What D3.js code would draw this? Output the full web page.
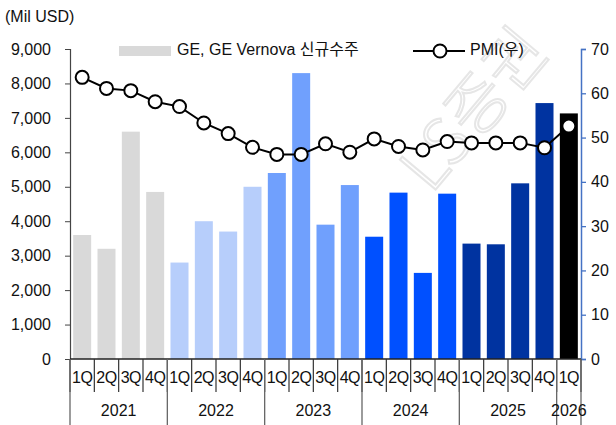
<!DOCTYPE html>
<html><head><meta charset="utf-8">
<script src="https://cdn.jsdelivr.net/npm/d3@7"></script>
<style>
body{margin:0;background:#fff;}
svg{display:block;font-family:"Liberation Sans",Arial,"Noto Sans CJK KR",sans-serif;}
</style></head>
<body><svg id="c" width="616" height="425"></svg>
<script>
// ---- data ----
const years = ["2021","2021","2021","2021","2022","2022","2022","2022","2023","2023","2023","2023","2024","2024","2024","2024","2025","2025","2025","2025","2026"];
const quarters = ["1Q","2Q","3Q","4Q","1Q","2Q","3Q","4Q","1Q","2Q","3Q","4Q","1Q","2Q","3Q","4Q","1Q","2Q","3Q","4Q","1Q"];
const orders = [3600,3200,6600,4850, 2800,4000,3700,5000, 5400,8300,3900,5050, 3550,4830,2500,4800, 3350,3330,5100,7430, 7130];
const pmi = [63.6,61.1,60.6,58.1, 57.0,53.3,50.9,47.8, 46.2,46.2,48.6,46.7, 49.7,48.0,47.2,49.1, 48.8,48.8,48.8,47.7, 52.6];
const yearList = ["2021","2022","2023","2024","2025","2026"];
const yearColors = ["#d9d9d9","#b7cefb","#70a0fd","#0050ff","#0033a0","#000000"];
const leftTicks = [0,1000,2000,3000,4000,5000,6000,7000,8000,9000];
const rightTicks = [0,10,20,30,40,50,60,70];
const legendLabels = ["GE, GE Vernova 신규수주","PMI(우)"];
const unitLabel = "(Mil USD)";
const watermark = "LS증권";

const svg = d3.select("#c");
const L = 70, R = 581, T = 49, B = 359;
const ids = d3.range(orders.length);

// watermark
svg.append("text").attr("transform","translate(478,112) rotate(-50)")
  .attr("text-anchor","middle").attr("dominant-baseline","middle")
  .style("font-family","'Noto Sans CJK KR',sans-serif").style("font-size","64px").style("font-weight","300")
  .attr("fill","none").attr("stroke","#e6e6e6").attr("stroke-width",2).text(watermark);

const x = d3.scaleBand().domain(ids).range([L,R]).paddingInner(0.26).paddingOuter(0.13);
const xb = d3.scaleBand().domain(ids).range([L,R]);
const yL = d3.scaleLinear().domain([0,9000]).range([B,T]);
const yR = d3.scaleLinear().domain([0,70]).range([B,T]);
const color = d3.scaleOrdinal().domain(yearList).range(yearColors);

// bars
svg.append("g").selectAll("rect").data(ids).join("rect")
  .attr("x", i=>x(i)).attr("width", x.bandwidth())
  .attr("y", i=>yL(orders[i])).attr("height", i=>B-yL(orders[i]))
  .attr("fill", i=>color(years[i]));

// left axis
const gl = svg.append("g").attr("transform",`translate(${L},0)`)
  .call(d3.axisLeft(yL).tickValues(leftTicks).tickFormat(d3.format(",")).tickSize(5).tickPadding(14));
gl.select(".domain").attr("stroke","#444").attr("stroke-width",1.2);
gl.selectAll(".tick line").attr("stroke","#444");
gl.selectAll("text").style("font-size","16px").attr("fill","#111");

// right axis
const gr = svg.append("g").attr("transform",`translate(${R},0)`)
  .call(d3.axisRight(yR).tickValues(rightTicks).tickSize(5).tickPadding(5));
gr.select(".domain").attr("stroke","#4472c4").attr("stroke-width",1.5);
gr.selectAll(".tick line").attr("stroke","#4472c4").attr("stroke-width",1.3);
gr.selectAll("text").style("font-size","16px").attr("fill","#111");

// x axis baseline
svg.append("line").attr("x1",L).attr("x2",R).attr("y1",B).attr("y2",B).attr("stroke","#222").attr("stroke-width",1.3);
// quarter separators
const bounds = d3.range(orders.length+1).map(i=> i<orders.length ? xb(i) : xb(orders.length-1)+xb.bandwidth());
svg.append("g").selectAll("line").data(bounds).join("line")
  .attr("x1",d=>d).attr("x2",d=>d).attr("y1",B).attr("y2",392).attr("stroke","#333").attr("stroke-width",1.2);
// year separators
const yearBounds = bounds.filter((d,i)=> i===0 || i===orders.length || years[i]!==years[i-1]);
svg.append("g").selectAll("line").data(yearBounds).join("line")
  .attr("x1",d=>d).attr("x2",d=>d).attr("y1",B).attr("y2",425).attr("stroke","#666").attr("stroke-width",1.3);
// quarter labels
svg.append("g").selectAll("text").data(ids).join("text")
  .attr("x", i=>xb(i)+xb.bandwidth()/2).attr("y",379)
  .attr("text-anchor","middle").attr("dominant-baseline","middle")
  .style("font-size","16px").style("letter-spacing","-0.5px").attr("fill","#111").text(i=>quarters[i]);
// year labels
svg.append("g").selectAll("text").data(yearList).join("text")
  .attr("x", yr=>{const idx=ids.filter(i=>years[i]===yr); return (xb(idx[0])+xb(idx[idx.length-1])+xb.bandwidth())/2;})
  .attr("y",412).attr("text-anchor","middle").attr("dominant-baseline","middle")
  .style("font-size","16px").attr("fill","#111").text(d=>d);

// PMI line
const line = d3.line().x(i=>xb(i)+xb.bandwidth()/2).y(i=>yR(pmi[i]));
svg.append("path").datum(ids).attr("d",line).attr("fill","none").attr("stroke","#000").attr("stroke-width",2);
svg.append("g").selectAll("circle").data(ids).join("circle")
  .attr("cx",i=>xb(i)+xb.bandwidth()/2).attr("cy",i=>yR(pmi[i])).attr("r",6.5)
  .attr("fill","#fff").attr("stroke","#000").attr("stroke-width",2);

// unit label
svg.append("text").attr("x",5).attr("y",22).style("font-size","16px").attr("fill","#111").text(unitLabel);

// legend
svg.append("rect").attr("x",119).attr("y",46).attr("width",52).attr("height",10).attr("fill",yearColors[0]);
svg.append("text").attr("x",177).attr("y",51).attr("dominant-baseline","middle").style("font-size","16px").attr("fill","#111")
  .text(legendLabels[0]);
svg.append("line").attr("x1",413).attr("x2",465).attr("y1",51).attr("y2",51).attr("stroke","#000").attr("stroke-width",2);
svg.append("circle").attr("cx",440).attr("cy",51).attr("r",6.5).attr("fill","#fff").attr("stroke","#000").attr("stroke-width",2);
svg.append("text").attr("x",470).attr("y",51).attr("dominant-baseline","middle").style("font-size","16px").attr("fill","#111")
  .text(legendLabels[1]);
</script></body></html>
